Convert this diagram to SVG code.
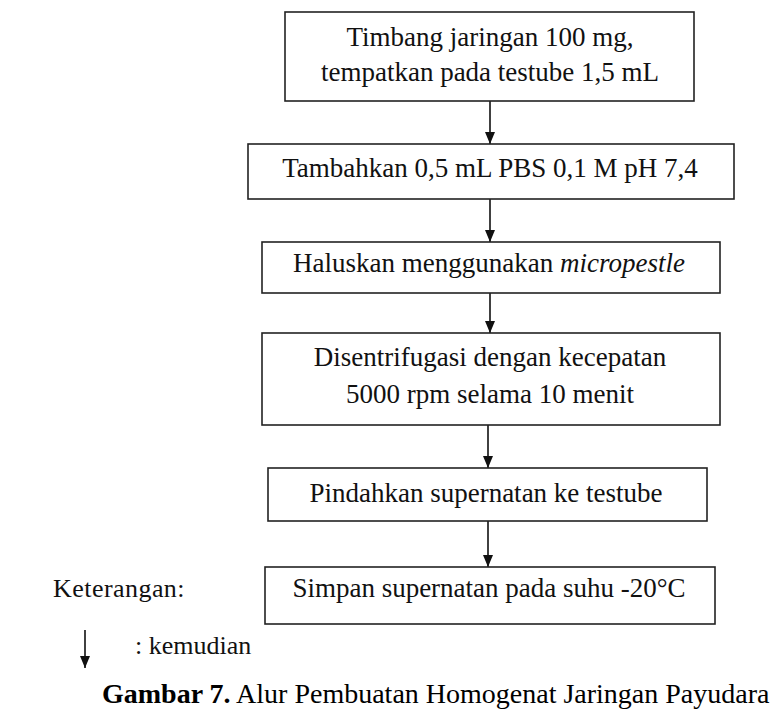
<svg xmlns="http://www.w3.org/2000/svg" width="779" height="710" viewBox="0 0 779 710">
<style>
.box{fill:#fff;stroke:#222;stroke-width:1.6}
.t{font-family:"Liberation Serif","Times New Roman",serif;font-size:27px;fill:#111;text-anchor:middle}
.l{font-family:"Liberation Serif","Times New Roman",serif;font-size:26px;fill:#111}
.c{font-family:"Liberation Serif","Times New Roman",serif;font-size:28px;fill:#000}
.arr{stroke:#111;stroke-width:1.6;fill:none;marker-end:url(#ah)}
</style>
<defs>
<marker id="ah" viewBox="0 0 12 10" refX="12" refY="5" markerWidth="13" markerHeight="10" orient="auto" markerUnits="userSpaceOnUse">
<path d="M0,0 L12,5 L0,10 z" fill="#111"/>
</marker>
</defs>
<rect width="779" height="710" fill="#fff"/>
<g id="connectors">
<line class="arr" x1="490" y1="101" x2="490" y2="144"/>
<line class="arr" x1="490" y1="199" x2="490" y2="242"/>
<line class="arr" x1="490" y1="293" x2="490" y2="333"/>
<line class="arr" x1="488" y1="425" x2="488" y2="468"/>
<line class="arr" x1="488" y1="521" x2="488" y2="567"/>
</g>
<g id="n1">
<rect class="box" x="285" y="12" width="409" height="89"/>
<text class="t" x="490" y="46">Timbang jaringan  100 mg,</text>
<text class="t" x="490" y="81">tempatkan pada testube 1,5 mL</text>
</g>
<g id="n2">
<rect class="box" x="248" y="144" width="486" height="55"/>
<text class="t" x="490" y="177">Tambahkan 0,5 mL PBS 0,1 M pH 7,4</text>
</g>
<g id="n3">
<rect class="box" x="262" y="242" width="458" height="51"/>
<text class="t" x="489" y="272">Haluskan menggunakan <tspan font-style="italic">micropestle</tspan></text>
</g>
<g id="n4">
<rect class="box" x="262" y="333" width="458" height="92"/>
<text class="t" x="490" y="366">Disentrifugasi dengan kecepatan</text>
<text class="t" x="490" y="403">5000 rpm selama 10 menit</text>
</g>
<g id="n5">
<rect class="box" x="268" y="468" width="439" height="53"/>
<text class="t" x="486" y="502">Pindahkan supernatan ke testube</text>
</g>
<g id="n6">
<rect class="box" x="265" y="567" width="450" height="57"/>
<text class="t" x="489" y="597">Simpan supernatan pada suhu -20°C</text>
</g>
<g id="legend">
<text class="l" x="53" y="597" letter-spacing="0.45">Keterangan:</text>
<line class="arr" x1="85" y1="630" x2="85" y2="668"/>
<text class="l" x="135" y="654">: kemudian</text>
</g>
<g id="caption">
<text class="c" x="102" y="703"><tspan font-weight="bold">Gambar 7.</tspan> Alur Pembuatan Homogenat Jaringan Payudara</text>
</g>
</svg>
